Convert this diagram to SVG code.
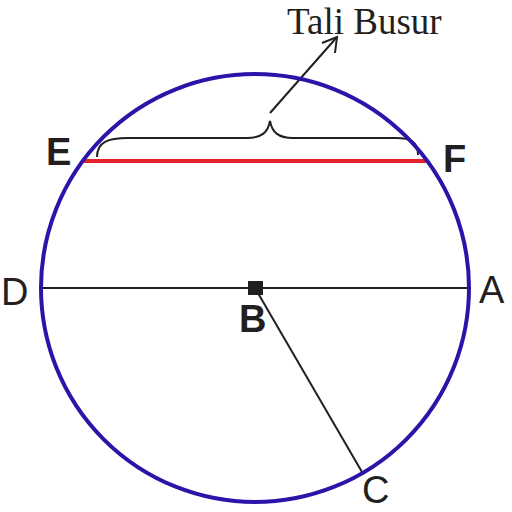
<svg xmlns="http://www.w3.org/2000/svg" width="512" height="512" viewBox="0 0 512 512">
<style>
.ln{stroke:#231f20;stroke-width:2;fill:none}
.lbl{font-family:"Liberation Sans",Arial,sans-serif;font-size:38px;fill:#231f20}
.b{font-weight:bold}
</style>
<rect width="512" height="512" fill="#fff"/>
<g id="connectors">
<line class="ln" x1="42" y1="288" x2="468" y2="288"/>
<line class="ln" x1="255" y1="288" x2="362" y2="472"/>
<line x1="83" y1="161" x2="426" y2="161" stroke="#e8202a" stroke-width="4"/>
<path class="ln" stroke-width="3" d="M97,157 C97,142 108,138 128,138 L247,138 C262,138 268,132 270,121 C272,132 278,138 293,138 L396,138 C411,138 418,142 418,155"/>
<line class="ln" stroke-width="2.5" x1="270" y1="113" x2="337" y2="37"/>
<polyline class="ln" stroke-width="2.5" points="322,43 337,37 335,53"/>
</g>
<g id="circle"><circle cx="255" cy="288" r="214" fill="none" stroke="#2a15a8" stroke-width="4"/></g>
<g id="center"><rect x="248" y="281" width="15" height="14" fill="#231f20"/></g>
<g id="labels">
<text class="lbl b" x="46" y="165">E</text>
<text class="lbl b" x="443" y="172">F</text>
<text class="lbl" x="1" y="305">D</text>
<text class="lbl" x="479" y="303">A</text>
<text class="lbl b" x="239" y="332">B</text>
<text class="lbl" x="362" y="503" font-size="35">C</text>
<text x="287" y="34" font-family="'Liberation Serif','Times New Roman',serif" font-size="37" fill="#231f20">Tali Busur</text>
</g>
</svg>
